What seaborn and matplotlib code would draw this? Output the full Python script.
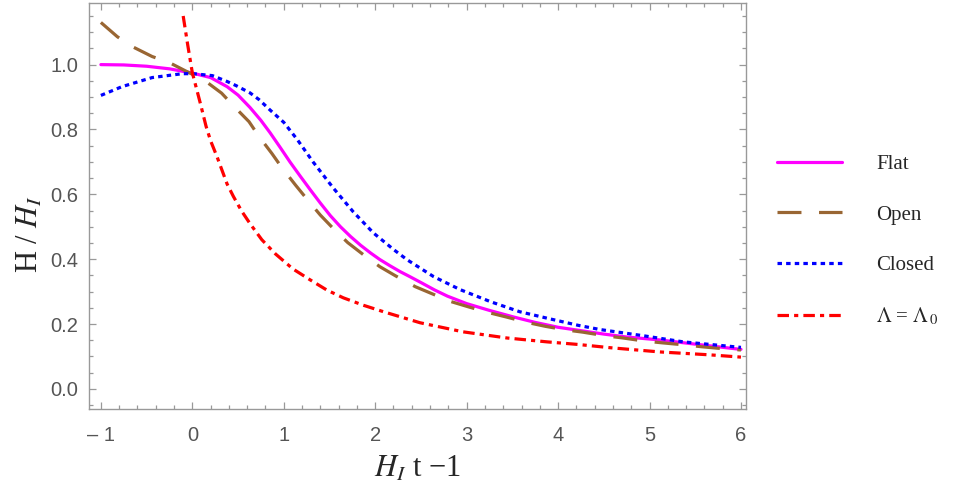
import matplotlib
matplotlib.use("Agg")
import matplotlib.pyplot as plt
from matplotlib.ticker import MultipleLocator, FixedLocator, FixedFormatter
import pandas as pd
import seaborn as sns

# values
flat_x = [-1, -0.75, -0.5, -0.25, 0, 0.2, 0.38, 0.5, 0.63, 0.75, 0.85, 0.96,
          1.07, 1.18, 1.29, 1.4, 1.51, 1.62, 1.73, 1.84, 1.95, 2.05, 2.16,
          2.27, 2.38, 2.5, 2.65, 2.79, 3.0, 3.25, 3.51, 3.75, 4.0, 4.24, 4.5,
          4.75, 5.11, 5.5, 5.93, 6.0]
flat_y = [1.0, 0.999, 0.995, 0.987, 0.974, 0.96, 0.932, 0.906, 0.868, 0.828,
          0.79, 0.745, 0.699, 0.656, 0.614, 0.573, 0.534, 0.5, 0.47, 0.443,
          0.419, 0.399, 0.38, 0.362, 0.346, 0.328, 0.305, 0.286, 0.263, 0.242,
          0.222, 0.205, 0.19, 0.18, 0.169, 0.16, 0.151, 0.138, 0.124, 0.122]

open_x = [-1, -0.82, -0.66, -0.44, -0.25, -0.07, 0.13, 0.32, 0.46, 0.62, 0.73,
          0.87, 0.98, 1.13, 1.26, 1.4, 1.54, 1.7, 1.87, 2.05, 2.22, 2.44, 2.6,
          2.82, 3.02, 3.23, 3.43, 3.66, 3.86, 4.08, 4.27, 4.51, 4.71, 4.93,
          5.14, 5.37, 5.57, 5.8, 6.0]
open_y = [1.13, 1.086, 1.056, 1.025, 1.006, 0.98, 0.952, 0.912, 0.87, 0.824,
          0.778, 0.726, 0.682, 0.628, 0.583, 0.536, 0.495, 0.451, 0.414, 0.377,
          0.349, 0.315, 0.296, 0.27, 0.253, 0.236, 0.222, 0.205, 0.193, 0.182,
          0.175, 0.164, 0.157, 0.148, 0.142, 0.136, 0.13, 0.124, 0.12]

closed_x = [-1, -0.77, -0.44, -0.11, 0.01, 0.22, 0.38, 0.48, 0.63, 0.73, 0.85,
            1.0, 1.15, 1.32, 1.54, 1.76, 1.98, 2.2, 2.35, 2.64, 2.93, 3.26,
            3.58, 3.91, 4.22, 4.46, 4.93, 5.37, 5.85, 6.0]
closed_y = [0.905, 0.932, 0.96, 0.972, 0.972, 0.966, 0.948, 0.935, 0.913, 0.892,
            0.86, 0.822, 0.768, 0.7, 0.62, 0.546, 0.481, 0.43, 0.398, 0.346,
            0.306, 0.269, 0.238, 0.216, 0.196, 0.183, 0.164, 0.145, 0.132,
            0.128]

lam_x = [-0.1, -0.05, 0, 0.09, 0.15, 0.2, 0.27, 0.38, 0.45, 0.54, 0.63, 0.76,
         0.91, 1.1, 1.29, 1.47, 1.65, 1.87, 2.09, 2.49, 2.96, 3.44, 3.88, 4.22,
         4.57, 5.11, 5.66, 6.0]
lam_y = [1.15, 1.06, 0.975, 0.878, 0.81, 0.765, 0.716, 0.632, 0.593, 0.548,
         0.51, 0.46, 0.416, 0.37, 0.336, 0.305, 0.281, 0.258, 0.238, 0.204,
         0.176, 0.157, 0.145, 0.137, 0.127, 0.114, 0.105, 0.098]

series_names = ["Flat", "Open", "Closed", "$\\Lambda$ = $\\Lambda_{\\,0}$"]
series_colors = ["#FF00FF", "#996633", "#0000FF", "#FF0000"]
series_styles = ["-", (0, (7.5, 5.5)), (0, (1.4, 1.3)), (0, (3.6, 1.6, 1.3, 1.6))]

xtick_vals = [-1, 0, 1, 2, 3, 4, 5, 6]
xtick_labels = ["\u2013 1", "0", "1", "2", "3", "4", "5", "6"]
ytick_vals = [0.0, 0.2, 0.4, 0.6, 0.8, 1.0]
ytick_labels = ["0.0", "0.2", "0.4", "0.6", "0.8", "1.0"]

sns.set_theme(style="ticks")
plt.rcParams["font.family"] = ["Liberation Sans", "DejaVu Sans"]
plt.rcParams["mathtext.fontset"] = "stix"

fig = plt.figure(figsize=(9.67, 4.96), dpi=100)
ax = fig.add_axes([89 / 967, 87 / 496, (746 - 89) / 967, (409 - 3) / 496])

curves = [(flat_x, flat_y), (open_x, open_y), (closed_x, closed_y), (lam_x, lam_y)]
for (xs, ys), name, col, ls in zip(curves, series_names, series_colors, series_styles):
    df = pd.DataFrame({"x": xs, "y": ys})
    sns.lineplot(data=df, x="x", y="y", ax=ax, color=col, linestyle=ls,
                 linewidth=2.3, label=name, legend=False)

ax.set_xlim(-1.13, 6.055)
ax.set_ylim(-0.062, 1.19)

ax.xaxis.set_major_locator(FixedLocator(xtick_vals))
ax.xaxis.set_major_formatter(FixedFormatter(xtick_labels))
ax.xaxis.set_minor_locator(MultipleLocator(0.2))
ax.yaxis.set_major_locator(FixedLocator(ytick_vals))
ax.yaxis.set_major_formatter(FixedFormatter(ytick_labels))
ax.yaxis.set_minor_locator(MultipleLocator(0.05))

frame_gray = "#999999"
for sp in ax.spines.values():
    sp.set_visible(True)
    sp.set_color(frame_gray)
    sp.set_linewidth(1.0)
ax.tick_params(which="both", direction="in", top=True, right=True,
               color=frame_gray, width=0.9)
ax.tick_params(which="major", length=5)
ax.tick_params(which="minor", length=2.8)
ax.tick_params(axis="x", which="major", labelsize=14.5, labelcolor="#555555", pad=12)
ax.tick_params(axis="y", which="major", labelsize=14.5, labelcolor="#555555", pad=8)

ax.set_xlabel("$H_I$ t \u22121", fontsize=22, family="Liberation Serif")
ax.set_ylabel("H / $H_I$", fontsize=22, family="Liberation Serif")
ax.xaxis.set_label_coords(0.5, -0.113)
ax.yaxis.set_label_coords(-0.068, 0.43)

handles, labels = ax.get_legend_handles_labels()
leg = ax.legend(handles, labels, loc="center left",
                bbox_to_anchor=(777 / 967, 1 - 241 / 496),
                bbox_transform=fig.transFigure, frameon=False,
                handlelength=3.1, handletextpad=1.65, labelspacing=1.48,
                borderpad=0, borderaxespad=0,
                prop={"family": "Liberation Serif", "size": 15})

fig.savefig("out.png", dpi=100)
